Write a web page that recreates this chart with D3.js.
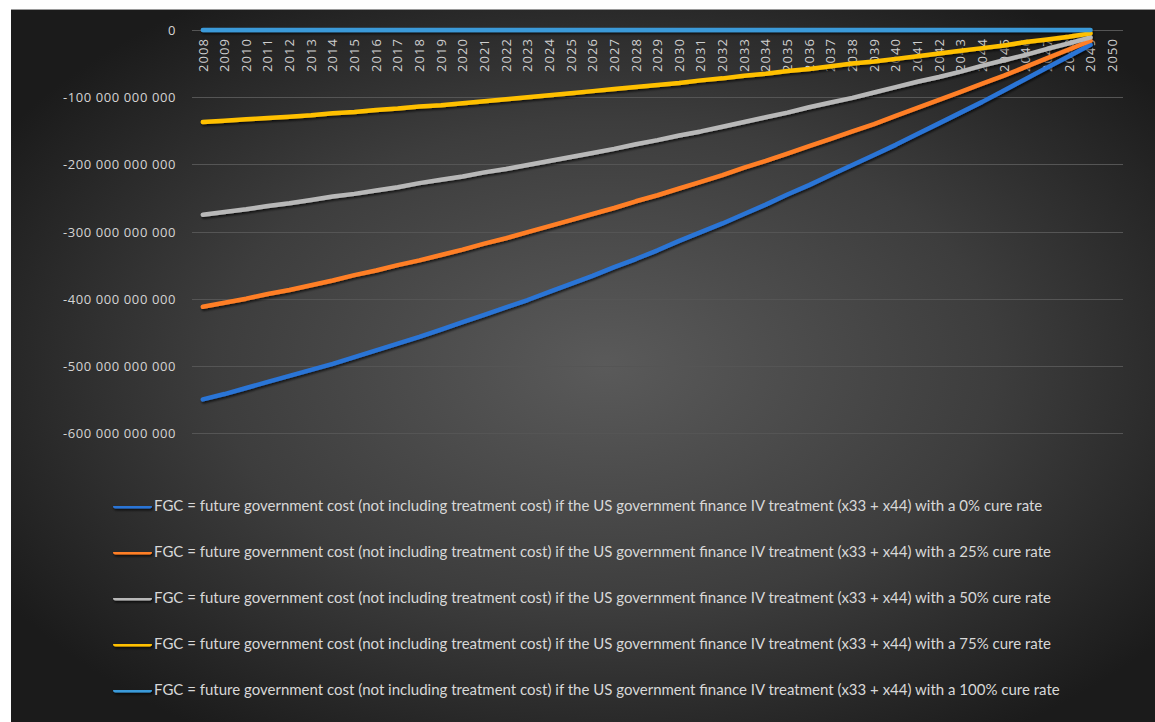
<!DOCTYPE html>
<html><head><meta charset="utf-8">
<script src="https://cdn.jsdelivr.net/npm/d3@7"></script>
<style>html,body{margin:0;padding:0;background:#fff;}svg{display:block;}</style>
</head><body>
<svg id="chart" width="1155" height="722"></svg>
<script>
const years = ["2008","2009","2010","2011","2012","2013","2014","2015","2016","2017","2018","2019","2020","2021","2022","2023","2024","2025","2026","2027","2028","2029","2030","2031","2032","2033","2034","2035","2036","2037","2038","2039","2040","2041","2042","2043","2044","2045","2046","2047","2048","2049","2050"];
const UNIT = 1e9; // values below are in billions
const cure0 = [-550,-542,-533,-524,-515,-506,-497,-487,-477,-467,-457,-446,-435,-424,-413,-402,-390,-378,-366,-353,-341,-328,-314,-301,-288,-274,-260,-245,-231,-216,-201,-186,-171,-155,-139,-123,-107,-90,-73,-56,-39,-22];
const cure25 = [-412,-406,-400,-393,-387,-380,-373,-365,-358,-350,-343,-335,-327,-318,-310,-301,-292,-283,-274,-265,-255,-246,-236,-226,-216,-205,-195,-184,-173,-162,-151,-140,-128,-116,-104,-92,-80,-68,-55,-42,-29,-16];
const cure50 = [-275,-271,-267,-262,-258,-253,-248,-244,-239,-234,-228,-223,-218,-212,-207,-201,-195,-189,-183,-177,-170,-164,-157,-151,-144,-137,-130,-123,-115,-108,-101,-93,-85,-77,-70,-62,-53,-45,-37,-28,-20,-11];
const cure75 = [-137,-135,-133,-131,-129,-127,-124,-122,-119,-117,-114,-112,-109,-106,-103,-100,-97,-94,-91,-88,-85,-82,-79,-75,-72,-68,-65,-61,-58,-54,-50,-47,-43,-39,-35,-31,-27,-23,-18,-14,-10,-5];
const cure100 = [0,0,0,0,0,0,0,0,0,0,0,0,0,0,0,0,0,0,0,0,0,0,0,0,0,0,0,0,0,0,0,0,0,0,0,0,0,0,0,0,0,0];
const yTicks = [0,-100,-200,-300,-400,-500,-600];
const legendPrefix = "FGC = future government cost (not including treatment cost) if the US government finance IV treatment (x33 + x44) with a ";
const rates = ["0%","25%","50%","75%","100%"];
const seriesValues = [cure0, cure25, cure50, cure75, cure100];
const colors = ["#2b74d6","#ff7f27","#b8b8b8","#ffc000","#3a9ad9"];

const svg = d3.select("#chart");
const W = 1155, H = 722;
const defs = svg.append("defs");
const rg = defs.append("radialGradient").attr("id","bg").attr("cx","52%").attr("cy","50%").attr("r","62%");
rg.append("stop").attr("offset","0%").attr("stop-color","#5a5a5a");
rg.append("stop").attr("offset","55%").attr("stop-color","#3d3d3d");
rg.append("stop").attr("offset","100%").attr("stop-color","#1b1b1b");
const sh = defs.append("filter").attr("id","shadow").attr("filterUnits","userSpaceOnUse")
  .attr("x",0).attr("y",0).attr("width",W).attr("height",H);
sh.append("feDropShadow").attr("dx",1).attr("dy",2).attr("stdDeviation",1.3).attr("flood-color","#000").attr("flood-opacity",0.65);

svg.append("rect").attr("x",0).attr("y",0).attr("width",W).attr("height",H).attr("fill","#ffffff");
svg.append("rect").attr("x",11).attr("y",9).attr("width",W-11).attr("height",H-9).attr("fill","url(#bg)");
svg.append("line").attr("x1",11).attr("x2",W).attr("y1",9.5).attr("y2",9.5).attr("stroke","#9a9a9a").attr("stroke-width",1);

const x = d3.scaleBand().domain(years).range([192,1123]).padding(0);
const y = d3.scaleLinear().domain([-600*UNIT, 0]).range([433, 30]);

// gridlines
svg.append("g").selectAll("line").data(yTicks).join("line")
  .attr("x1",192).attr("x2",1123)
  .attr("y1",d=>Math.round(y(d*UNIT))+0.5).attr("y2",d=>Math.round(y(d*UNIT))+0.5)
  .attr("stroke","#555555").attr("stroke-width",1);

// y axis labels
const yAxis = d3.axisLeft(y).tickValues(yTicks.map(v=>v*UNIT)).tickSize(0).tickPadding(0)
  .tickFormat(v => { const n = Math.round(v); if (n===0) return "0"; return "-" + d3.format(",")(Math.abs(n)).replace(/,/g," "); });
const ya = svg.append("g").attr("transform","translate(176,0)").call(yAxis);
ya.select(".domain").remove();
ya.selectAll("text").attr("fill","#d4d4d4").style("font-family","'Open Sans', sans-serif").style("font-size","13px").style("letter-spacing","0.6px").attr("dy","0.35em");

// x axis labels (rotated)
const xa = svg.append("g").attr("transform","translate(0,30)").call(d3.axisBottom(x).tickSize(0).tickPadding(0));
xa.select(".domain").remove();
xa.selectAll("text")
  .attr("transform","rotate(-90)")
  .attr("x",-9).attr("y",0).attr("dy","0.36em")
  .attr("text-anchor","end")
  .attr("textLength",33).attr("lengthAdjust","spacing")
  .attr("fill","#cfcfcf").style("font-family","'Open Sans', sans-serif").style("font-size","13px");

// lines
const line = d3.line().x((d,i)=>x(years[i]) + x.bandwidth()/2).y(d=>y(d*UNIT)).curve(d3.curveLinear);
const lg = svg.append("g").attr("filter","url(#shadow)");
seriesValues.forEach((vals,k)=>{
  lg.append("path").datum(vals).attr("d",line).attr("fill","none")
    .attr("stroke",colors[k]).attr("stroke-width",4.5).attr("stroke-linecap","round").attr("stroke-linejoin","round");
});

// legend
const legY = [506,552,598,644,690];
const leg = svg.append("g");
const tmp = leg.append("text").style("font-family","Lato, sans-serif").style("font-size","14px").text(legendPrefix + rates[0] + " cure rate");
const len = tmp.node().getComputedTextLength();
tmp.remove();
const fs = 14 * 889 / len;
rates.forEach((r,k)=>{
  const g = leg.append("g").attr("transform",`translate(0,${legY[k]})`);
  g.append("rect").attr("x",113).attr("y",-2.5).attr("width",39).attr("height",5).attr("rx",2.5)
    .attr("fill",colors[k]).attr("filter","url(#shadow)");
  g.append("text").attr("x",154).attr("y",0).attr("dy","0.35em")
    .attr("fill","#d8d8d8").style("font-family","Lato, sans-serif").style("font-size",fs+"px")
    .text(legendPrefix + r + " cure rate");
});
</script>
</body></html>
